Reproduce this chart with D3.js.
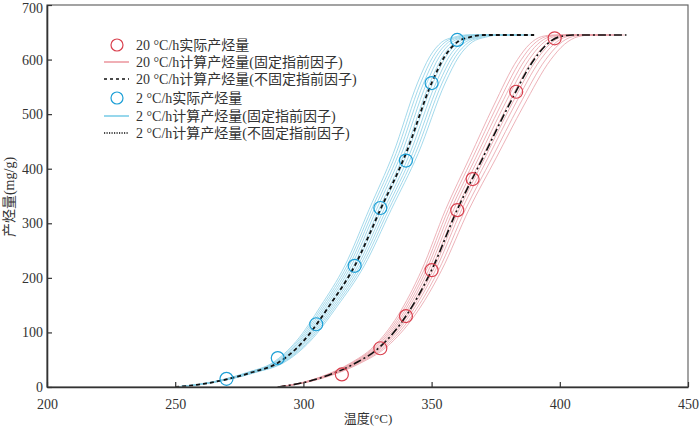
<!DOCTYPE html>
<html>
<head>
<meta charset="utf-8">
<script src="https://cdn.jsdelivr.net/npm/d3@7"></script>
<style>
  body { margin: 0; background: #fff; }
  svg { display: block; }
  .tick-label { font-family: "Liberation Serif", "Times New Roman", serif; font-size: 14px; fill: #333; }
  .legend-text { font-family: "Liberation Serif", "Noto Sans CJK SC", serif; font-size: 14px; fill: #333; }
</style>
</head>
<body>
<svg id="chart" width="700" height="428"></svg>
<script>
// ticks
var tempTicks = [200, 250, 300, 350, 400, 450];
var yieldTicks = [0, 100, 200, 300, 400, 500, 600, 700];

// measured yield, 20 C/h
var obs20T = [315, 330, 340, 350, 360, 366, 383, 398];
var obs20Y = [23, 71, 130, 214, 324, 381, 541, 639];
// measured yield, 2 C/h
var obs2T = [270, 290, 305, 320, 330, 340, 350, 360];
var obs2Y = [15, 53, 115, 222, 328, 415, 557, 636];

// calculated yield, free pre-exponential factor (black curves)
var fit20T = [290, 300, 310, 320, 330, 340, 350, 360, 370, 380, 390, 395, 400, 405, 410, 426];
var fit20Y = [0, 8, 22, 43, 74, 130, 214, 325, 420, 515, 600, 628, 642, 645, 645, 645];
var fit2T = [250, 260, 270, 280, 290, 300, 310, 320, 330, 340, 350, 355, 360, 365, 370, 380, 390];
var fit2Y = [0, 5, 14, 27, 44, 84, 148, 222, 325, 428, 557, 605, 632, 641, 645, 645, 645];

// fixed-factor curves: temperature stretch of each thin line from onset
var band20 = [0.935, 0.95, 0.965, 0.98, 0.995, 1.01, 1.025, 1.045, 1.065];
var band2 = [0.945, 0.957, 0.969, 0.981, 0.993, 1.005, 1.017, 1.029, 1.041, 1.053];

var W = 700, H = 428;
var m = {left: 47, right: 12, top: 5, bottom: 41};

var svg = d3.select("#chart");
var x = d3.scaleLinear().domain([200, 450]).range([m.left, W - m.right]);
var y = d3.scaleLinear().domain([0, 700]).range([H - m.bottom, m.top]);

var line = d3.line()
  .x(function(d) { return x(d[0]); })
  .y(function(d) { return y(d[1]); })
  .curve(d3.curveMonotoneX);

function pairs(ts, ys) { return ts.map(function(t, i) { return [t, ys[i]]; }); }

function stretched(ts, ys, k) {
  var t0 = ts[0], tEnd = ts[ts.length - 1];
  return ts.map(function(t, i) { return [t0 + (t - t0) * k, ys[i]]; })
    .filter(function(p) { return p[0] <= tEnd; });
}

var plot = svg.append("g");

// thin fixed-factor lines
band2.forEach(function(k) {
  plot.append("path").attr("d", line(stretched(fit2T, fit2Y, k)))
    .attr("fill", "none").attr("stroke", "#8ccfe6").attr("stroke-width", 0.8);
});
band20.forEach(function(k) {
  plot.append("path").attr("d", line(stretched(fit20T, fit20Y, k)))
    .attr("fill", "none").attr("stroke", "#e9a0a7").attr("stroke-width", 0.8);
});

// black fitted curves
plot.append("path").attr("d", line(pairs(fit2T, fit2Y)))
  .attr("fill", "none").attr("stroke", "#111").attr("stroke-width", 1.8)
  .attr("stroke-dasharray", "4,3");
plot.append("path").attr("d", line(pairs(fit20T, fit20Y)))
  .attr("fill", "none").attr("stroke", "#111").attr("stroke-width", 1.6)
  .attr("stroke-dasharray", "8,3,2,3");

// measured points
plot.selectAll("circle.o2").data(pairs(obs2T, obs2Y)).enter().append("circle")
  .attr("class", "o2")
  .attr("cx", function(d) { return x(d[0]); })
  .attr("cy", function(d) { return y(d[1]); })
  .attr("r", 6.5).attr("fill", "none").attr("stroke", "#1c9fd6").attr("stroke-width", 1.2);
plot.selectAll("circle.o20").data(pairs(obs20T, obs20Y)).enter().append("circle")
  .attr("class", "o20")
  .attr("cx", function(d) { return x(d[0]); })
  .attr("cy", function(d) { return y(d[1]); })
  .attr("r", 6.5).attr("fill", "none").attr("stroke", "#d9404e").attr("stroke-width", 1.2);

// frame
svg.append("rect")
  .attr("x", m.left).attr("y", m.top)
  .attr("width", W - m.left - m.right).attr("height", H - m.top - m.bottom)
  .attr("fill", "none").attr("stroke", "#666").attr("stroke-width", 1.2);

// axes (ticks pointing inward)
var xAxis = svg.append("g").attr("transform", "translate(0," + (H - m.bottom) + ")")
  .call(d3.axisBottom(x).tickValues(tempTicks).tickSizeInner(-5).tickSizeOuter(0).tickPadding(12));
var yAxis = svg.append("g").attr("transform", "translate(" + m.left + ",0)")
  .call(d3.axisLeft(y).tickValues(yieldTicks).tickSizeInner(-5).tickSizeOuter(0).tickPadding(4));
[xAxis, yAxis].forEach(function(a) {
  a.select(".domain").attr("stroke", "#333").attr("stroke-width", 1.6);
  a.selectAll(".tick line").attr("stroke", "#333").attr("stroke-width", 1.2);
  a.selectAll(".tick text").attr("class", "tick-label").attr("font-size", null).attr("font-family", null);
  a.attr("font-size", null).attr("font-family", null);
});
// keep the top label inside the page
yAxis.selectAll(".tick text").filter(function(d) { return d === 700; }).attr("dy", "0.55em");

// axis titles
svg.append("text").attr("x", 368).attr("y", 423).attr("text-anchor", "middle")
  .attr("class", "legend-text").style("font-size", "13px").text("温度(°C)");
svg.append("text").attr("transform", "translate(14,197) rotate(-90)").attr("text-anchor", "middle")
  .attr("class", "legend-text").style("font-size", "14px").text("产烃量(mg/g)");

// legend
var legendLabels = [
  "20 °C/h实际产烃量",
  "20 °C/h计算产烃量(固定指前因子)",
  "20 °C/h计算产烃量(不固定指前因子)",
  "2 °C/h实际产烃量",
  "2 °C/h计算产烃量(固定指前因子)",
  "2 °C/h计算产烃量(不固定指前因子)"
];
var legendKinds = ["circle", "line", "line", "circle", "line", "line"];
var legendColors = ["#d9404e", "#e8848d", "#111", "#1c9fd6", "#5fc2e2", "#111"];
var legendDash = [null, null, "3,3", null, null, "1.2,1.3"];
var legendY = [45, 62, 79, 98, 116, 133];

var lg = svg.append("g");
legendLabels.forEach(function(lbl, i) {
  var row = lg.append("g").attr("transform", "translate(0," + legendY[i] + ")");
  if (legendKinds[i] === "circle") {
    row.append("circle").attr("cx", 117).attr("cy", 0).attr("r", 6)
      .attr("fill", "none").attr("stroke", legendColors[i]).attr("stroke-width", 1.2);
  } else {
    row.append("line").attr("x1", 104).attr("x2", 129).attr("y1", 0).attr("y2", 0)
      .attr("stroke", legendColors[i]).attr("stroke-width", 1.3)
      .attr("stroke-dasharray", legendDash[i]);
  }
  row.append("text").attr("x", 136).attr("y", 5).attr("class", "legend-text").text(lbl);
});
</script>
</body>
</html>
